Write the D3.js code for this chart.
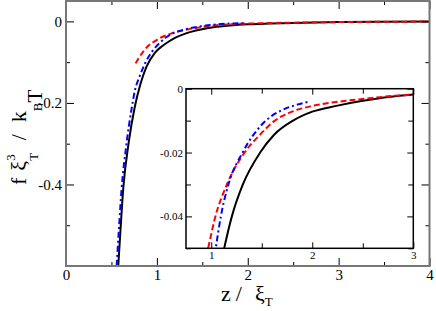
<!DOCTYPE html>
<html><head><meta charset="utf-8">
<script src="https://cdn.jsdelivr.net/npm/d3@7"></script>
<style>body{margin:0;background:#fff}svg{display:block}text{font-family:"Liberation Serif","Times New Roman",serif !important}</style>
</head><body><div id="c"></div>
<script>
// black solid series
const zBlack = [0.575,0.60,0.63,0.69,0.755,0.82,0.886,0.978,1.05,1.128,1.204,1.313,1.484,1.62,1.81,2.0,2.25,2.5,2.75,3.0,3.5,4.0];
const fBlack = [-0.60,-0.51,-0.41,-0.297,-0.212,-0.153,-0.111,-0.077,-0.062,-0.050,-0.040,-0.030,-0.020,-0.0145,-0.010,-0.0072,-0.0053,-0.0038,-0.0026,-0.0018,-0.0009,-0.0004];
// red dashed series
const zRed = [0.766,0.80,0.85,0.905,0.983,1.033,1.155,1.33,1.48,1.63,1.80,2.0,2.25,2.5,2.75,3.0,3.5,4.0];
const fRed = [-0.103,-0.090,-0.074,-0.060,-0.048,-0.041,-0.030,-0.020,-0.0145,-0.010,-0.0072,-0.0054,-0.0041,-0.0032,-0.0024,-0.0018,-0.0009,-0.0004];
// blue dash-dot series
const zBlue = [0.557,0.585,0.612,0.66,0.722,0.76,0.81,0.87,0.95,1.04,1.095,1.17,1.31,1.52,1.70,1.85,1.977];
const fBlue = [-0.60,-0.50,-0.41,-0.31,-0.214,-0.168,-0.135,-0.103,-0.073,-0.051,-0.040,-0.030,-0.020,-0.0106,-0.0067,-0.0050,-0.0040];

const mainXMajor = [0,1,2,3,4], mainXMinor = [0.5,1.5,2.5,3.5];
const mainYMajor = [0,-0.2,-0.4,-0.6], mainYMinor = [-0.1,-0.3,-0.5];
const mainYLabels = ["0","-0.2","-0.4",""];
const insXMajor = [1,2,3], insXMinor = [1.5,2.5];
const insYMajor = [0,-0.02,-0.04], insYMinor = [-0.01,-0.03,-0.05];
const insYLabels = ["0","-0.02","-0.04"];

const series = [
  {z:zBlack, f:fBlack, color:"#000", dash:null},
  {z:zRed, f:fRed, color:"#ff0000", dash:"6,3"},
  {z:zBlue, f:fBlue, color:"#0000ff", dash:"6,3,2,3"}
];

const W=436,H=311;
const svg=d3.select("#c").append("svg").attr("width",W).attr("height",H);
const defs=svg.append("defs");

function panel(cfg){
  const x=d3.scaleLinear().domain(cfg.xd).range(cfg.xr);
  const y=d3.scaleLinear().domain(cfg.yd).range(cfg.yr);
  const g=svg.append("g");
  if(cfg.bg) g.append("rect").attr("x",cfg.xr[0]).attr("y",cfg.yr[1]).attr("width",cfg.xr[1]-cfg.xr[0]).attr("height",cfg.yr[0]-cfg.yr[1]).attr("fill","#fff");
  defs.append("clipPath").attr("id",cfg.id).append("rect").attr("x",cfg.xr[0]).attr("y",cfg.yr[1]).attr("width",cfg.xr[1]-cfg.xr[0]).attr("height",cfg.yr[0]-cfg.yr[1]);
  const line=d3.line().x((d)=>x(d[0])).y((d)=>y(d[1])).curve(d3.curveMonotoneX);
  const lg=g.append("g").attr("clip-path",`url(#${cfg.id})`);
  series.forEach(s=>{
    const pts=s.z.map((v,i)=>[v,s.f[i]]);
    lg.append("path").attr("d",line(pts)).attr("fill","none").attr("stroke",s.color).attr("stroke-width",cfg.lw).attr("stroke-dasharray",s.dash);
  });
  const mk=(axis,tx,ty,vals,size,labels,pad,fs)=>{
    const a=axis.tickValues(vals).tickSizeInner(-size).tickSizeOuter(0).tickPadding(pad);
    if(labels) a.tickFormat((d,i)=>labels[i]); else a.tickFormat("");
    const ag=g.append("g").attr("transform",`translate(${tx},${ty})`).call(a);
    ag.attr("font-family",null);
    ag.select(".domain").remove();
    ag.selectAll("line").attr("stroke","#000");
    ag.selectAll("text").attr("font-size",fs).attr("fill","#000");
  };
  const [x0,x1]=cfg.xr,[yb,yt]=cfg.yr;
  mk(d3.axisBottom(x),0,yb,cfg.xMaj,cfg.maj,cfg.xLab,cfg.xpad,cfg.fs);
  mk(d3.axisBottom(x),0,yb,cfg.xMin,cfg.min,null,3,cfg.fs);
  mk(d3.axisTop(x),0,yt,cfg.xMaj,cfg.maj,null,3,cfg.fs);
  mk(d3.axisTop(x),0,yt,cfg.xMin,cfg.min,null,3,cfg.fs);
  mk(d3.axisLeft(y),x0,0,cfg.yMaj,cfg.maj,cfg.yLab,cfg.ypad,cfg.fs);
  mk(d3.axisLeft(y),x0,0,cfg.yMin,cfg.min,null,3,cfg.fs);
  mk(d3.axisRight(y),x1,0,cfg.yMaj,cfg.maj,null,3,cfg.fs);
  mk(d3.axisRight(y),x1,0,cfg.yMin,cfg.min,null,3,cfg.fs);
  g.append("rect").attr("x",x0).attr("y",yt).attr("width",x1-x0).attr("height",yb-yt).attr("fill","none").attr("stroke",cfg.frame).attr("stroke-width",cfg.fw);
  return {x,y};
}

panel({id:"cm",xd:[0,4],xr:[66,429.5],yd:[-0.6,0.05],yr:[266,1],lw:2,
  xMaj:mainXMajor,xMin:mainXMinor,yMaj:mainYMajor,yMin:mainYMinor,
  xLab:mainXMajor.map(String),yLab:mainYLabels,maj:8,min:4,xpad:3,ypad:4,fs:15,frame:"#777",fw:2});

panel({id:"ci",xd:[0.75,3],xr:[186,413.3],yd:[-0.05,0],yr:[248.3,88.7],lw:2,bg:true,
  xMaj:insXMajor,xMin:insXMinor,yMaj:insYMajor,yMin:insYMinor,
  xLab:insXMajor.map(String),yLab:insYLabels,maj:6,min:5,xpad:3,ypad:3,fs:11,frame:"#000",fw:1.5});

// axis titles
const xt=svg.append("text").attr("x",221).attr("y",301).attr("font-size",22);
xt.append("tspan").text("z");
xt.append("tspan").attr("dx",5).text("/");
xt.append("tspan").attr("dx",13).text("ξ");
xt.append("tspan").attr("font-size",13).attr("dy",5).text("T");

const yt=svg.append("text").attr("transform","translate(26,185) rotate(-90)").attr("font-size",22);
yt.append("tspan").text("f");
yt.append("tspan").attr("dx",7).text("ξ");
yt.append("tspan").attr("font-size",13).attr("dy",12).text("T");
yt.append("tspan").attr("font-size",13).attr("dx",-7.9).attr("dy",-23).text("3");
yt.append("tspan").attr("dx",14).attr("dy",11).text("/");
yt.append("tspan").attr("dx",12).text("k");
yt.append("tspan").attr("font-size",13).attr("dy",16).text("B");
yt.append("tspan").attr("font-size",21).text("T");
</script></body></html>
